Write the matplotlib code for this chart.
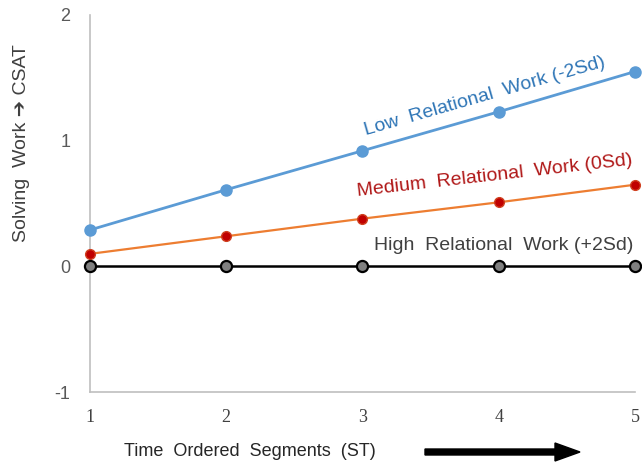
import matplotlib.pyplot as plt
from matplotlib.patches import FancyArrow

segments = [1, 2, 3, 4, 5]
low_work = [0.29, 0.61, 0.92, 1.23, 1.55]
medium_work = [0.10, 0.24, 0.38, 0.51, 0.65]
high_work = [0.0, 0.0, 0.0, 0.0, 0.0]
y_ticks = [-1, 0, 1, 2]

plt.rcParams['font.family'] = ['Liberation Sans', 'DejaVu Sans']
plt.rcParams['axes.unicode_minus'] = False

fig = plt.figure(figsize=(6.42, 4.68), dpi=100)
ax = fig.add_axes([0.140, 0.162, 0.849, 0.806])

ax.plot(segments, low_work, color='#5b9bd5', lw=2, marker='o', ms=8,
        mfc='#5b9bd5', mec='#5b9bd5', clip_on=False, zorder=3)
ax.plot(segments, medium_work, color='#ed7d31', lw=1.6, marker='o', ms=7,
        mfc='#c00000', mec='#d04020', clip_on=False, zorder=3)
ax.plot(segments, high_work, color='black', lw=1.8, marker='o', ms=8,
        mfc='#808080', mec='black', mew=1.6, clip_on=False, zorder=3)

ax.set_xlim(1, 5)
ax.set_ylim(-1, 2)
ax.set_yticks(y_ticks)
ax.set_xticks(segments)
ax.tick_params(length=0)
ax.tick_params(axis='y', labelsize=13, labelcolor='#595959', pad=14)
ax.tick_params(axis='x', labelsize=13, labelcolor='#404040', pad=12)
for lab in ax.get_xticklabels():
    lab.set_family('Liberation Serif')
for side in ['top', 'right']:
    ax.spines[side].set_visible(False)
for side in ['left', 'bottom']:
    ax.spines[side].set_color('#bfbfbf')
    ax.spines[side].set_linewidth(1.2)

# series labels
ax.text(3.9, 1.35, 'Low  Relational  Work (-2Sd)', color='#2e75b6',
        fontsize=14, rotation=16, ha='center', va='center')
ax.text(3.97, 0.72, 'Medium  Relational  Work (0Sd)', color='#b01818',
        fontsize=14, rotation=6.5, ha='center', va='center')
ax.text(4.04, 0.165, 'High  Relational  Work (+2Sd)', color='#404040',
        fontsize=14, ha='center', va='center')

fig.text(22 / 642, 1 - 143 / 468, 'Solving  Work \u2794 CSAT', rotation=90,
         ha='center', va='center', fontsize=14, color='#404040')
fig.text(250 / 642, 1 - 451 / 468, 'Time  Ordered  Segments  (ST)',
         ha='center', va='center', fontsize=13, color='#262626')
fig.patches.append(FancyArrow(
    425 / 642, 1 - 452 / 468, 130 / 642, 0, width=6 / 468,
    head_width=18 / 468, head_length=25 / 642, length_includes_head=False,
    color='black', transform=fig.transFigure, figure=fig))

fig.savefig('out.png', dpi=100)
